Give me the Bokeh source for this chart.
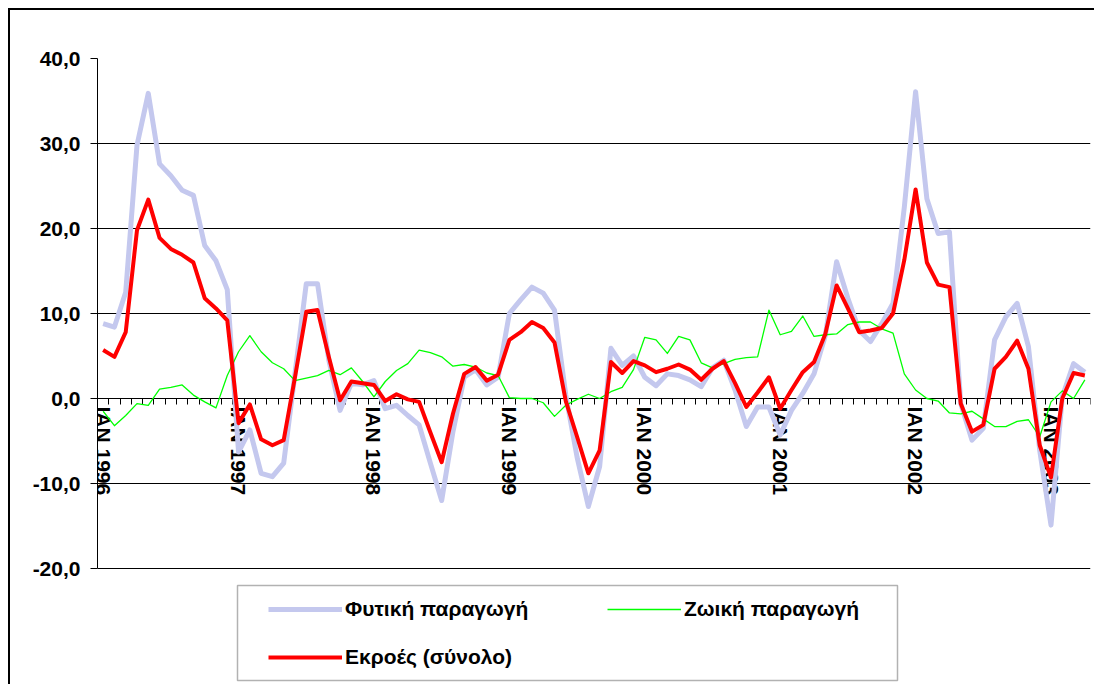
from bokeh.plotting import figure
from bokeh.models import (Range1d, LinearAxis, FixedTicker, Grid, Legend, LegendItem,
                          BoxAnnotation, ColumnDataSource)
from bokeh.embed import file_html
from bokeh.resources import INLINE

# ---------------- data (monthly, Jan 1996 - Apr 2003) ----------------
month_index = list(range(88))
fytiki = [8.8, 8.4, 12.5, 29.8, 35.9, 27.6, 26.2, 24.5, 23.9, 18.0, 16.2, 12.8,
          -6.3, -3.7, -8.8, -9.2, -7.6, 2.9, 13.5, 13.5, 4.5, -1.4, 1.8, 1.6,
          2.1, -1.2, -0.8, -2.0, -3.1, -7.6, -12.0, -3.9, 2.5, 3.4, 1.6, 2.5,
          10.0, 11.6, 13.1, 12.4, 10.4, 0.4, -6.9, -12.7, -8.0, 5.9, 3.9, 5.0,
          2.5, 1.5, 2.9, 2.7, 2.2, 1.4, 3.6, 4.5, 1.0, -3.3, -1.0, -1.0,
          -4.3, -1.4, 0.6, 2.9, 7.4, 16.1, 11.8, 8.0, 6.7, 8.8, 11.2, 22.5,
          36.1, 23.5, 19.4, 19.6, -0.6, -4.9, -3.5, 6.9, 9.6, 11.2, 6.1, -6.1,
          -14.9, 0.2, 4.1, 3.1]
zoiki = [-1.5, -3.2, -2.0, -0.6, -0.8, 1.1, 1.3, 1.6, 0.4, -0.4, -1.1, 2.7,
         5.5, 7.4, 5.5, 4.2, 3.5, 2.1, 2.4, 2.7, 3.3, 2.8, 3.6, 2.0,
         0.2, 2.0, 3.3, 4.1, 5.7, 5.4, 4.9, 3.8, 4.0, 3.7, 3.0, 2.7,
         0.1, 0.0, 0.0, -0.5, -2.1, -0.8, -0.1, 0.5, 0.0, 0.8, 1.3, 3.4,
         7.2, 6.9, 5.3, 7.3, 6.9, 4.2, 3.6, 4.1, 4.6, 4.8, 4.9, 10.4,
         7.5, 7.9, 9.7, 7.3, 7.5, 7.6, 8.7, 9.0, 9.0, 8.2, 7.7, 2.9,
         1.0, 0.0, -0.3, -1.7, -1.8, -1.5, -2.4, -3.3, -3.3, -2.7, -2.5, -4.5,
         -0.4, 0.9, 0.0, 2.2]
ekroes = [5.7, 4.9, 7.8, 19.8, 23.4, 18.9, 17.6, 16.9, 16.0, 11.8, 10.6, 9.2,
          -2.9, -0.7, -4.8, -5.5, -4.9, 2.5, 10.2, 10.4, 4.9, -0.2, 2.0, 1.8,
          1.6, -0.3, 0.5, -0.1, -0.4, -4.0, -7.5, -1.8, 2.9, 3.7, 2.1, 2.8,
          6.9, 7.8, 9.0, 8.3, 6.6, -0.3, -4.5, -8.8, -6.1, 4.3, 3.0, 4.4,
          3.9, 3.1, 3.5, 4.0, 3.4, 2.2, 3.5, 4.4, 1.8, -1.0, 0.7, 2.5,
          -1.2, 1.0, 3.1, 4.3, 7.6, 13.3, 10.6, 7.8, 8.0, 8.3, 10.0, 16.3,
          24.6, 16.0, 13.4, 13.1, -0.6, -3.9, -3.1, 3.5, 4.9, 6.8, 3.5, -5.5,
          -9.3, 0.0, 3.0, 2.7]

year_positions = [0, 12, 24, 36, 48, 60, 72, 84]
year_labels = ["IAN 1996", "IAN 1997", "IAN 1998", "IAN 1999",
               "IAN 2000", "IAN 2001", "IAN 2002", "IAN 2003"]
y_ticks = [-20, -10, 0, 10, 20, 30, 40]
y_tick_labels = ["-20,0", "-10,0", "0,0", "10,0", "20,0", "30,0", "40,0"]
series_names = ["Φυτική παραγωγή", "Ζωική παραγωγή", "Εκροές (σύνολο)"]

FONT = "Liberation Sans"

# layout (pixels)
FRAME_W, FRAME_H = 993, 628
PLOT_H = 510                      # height of the -20..40 band
PX_PER_UNIT = PLOT_H / (y_ticks[-1] - y_ticks[0])
y_bottom = y_ticks[0] - (FRAME_H - PLOT_H) / PX_PER_UNIT

src = ColumnDataSource(dict(x=month_index, fyt=fytiki, zoi=zoiki, ekr=ekroes))

p = figure(frame_width=FRAME_W, frame_height=FRAME_H,
           min_border_left=87, min_border_right=6, min_border_top=48, min_border_bottom=0,
           x_range=Range1d(-0.5, len(month_index) - 0.5),
           y_range=Range1d(y_bottom, y_ticks[-1]),
           x_axis_type=None, y_axis_type=None,
           output_backend="svg", toolbar_location=None)
p.outline_line_color = None
p.background_fill_color = "white"
p.border_fill_color = "white"
p.styles = {"box-shadow": "-2px -2px 0px 0px black",
            "margin-top": "10px", "margin-left": "10px"}

# grid
grid = Grid(dimension=1, ticker=FixedTicker(ticks=y_ticks),
            grid_line_color="#000000", grid_line_width=1)
p.add_layout(grid)

# y axis
yax = LinearAxis(ticker=FixedTicker(ticks=y_ticks), bounds=(y_ticks[0], y_ticks[-1]),
                 major_label_overrides={t: l for t, l in zip(y_ticks, y_tick_labels)})
yax.axis_line_color = "black"
yax.major_tick_out = 7
yax.major_tick_in = 0
yax.minor_tick_line_color = None
yax.major_label_standoff = 10
yax.major_label_text_font = FONT
yax.major_label_text_font_style = "bold"
yax.major_label_text_font_size = "21px"
yax.major_label_text_color = "black"
p.add_layout(yax, "left")

# x axis at zero
boundaries = [i - 0.5 for i in range(len(month_index) + 1)]
xax = LinearAxis(ticker=FixedTicker(ticks=year_positions, minor_ticks=boundaries),
                 major_label_overrides={t: l for t, l in zip(year_positions, year_labels)},
                 fixed_location=0)
xax.axis_line_color = "black"
xax.major_tick_line_color = None
xax.major_tick_out = 6
xax.major_tick_in = 0
xax.minor_tick_out = 6
xax.minor_tick_in = 0
xax.minor_tick_line_color = "black"
xax.major_label_orientation = "vertical"
xax.major_label_standoff = 2
xax.major_label_text_font = FONT
xax.major_label_text_font_style = "bold"
xax.major_label_text_font_size = "21px"
xax.major_label_text_color = "black"
xax.level = "underlay"
p.add_layout(xax, "below")

# series
r_fyt = p.line("x", "fyt", source=src, line_color="#C4C8EE", line_width=5, line_join="round")
r_zoi = p.line("x", "zoi", source=src, line_color="#00FF00", line_width=1.3, line_join="round")
r_ekr = p.line("x", "ekr", source=src, line_color="#FF0000", line_width=4, line_join="round")

legend = Legend(items=[LegendItem(label=series_names[0], renderers=[r_fyt]),
                       LegendItem(label=series_names[1], renderers=[r_zoi]),
                       LegendItem(label=series_names[2], renderers=[r_ekr])],
                orientation="horizontal", ncols=2,
                location=(171, 17), padding=0, margin=0, spacing=24,
                glyph_width=74, glyph_height=24, label_height=24, label_width=238,
                label_standoff=3, border_line_alpha=0, background_fill_alpha=0,
                label_text_font=FONT, label_text_font_style="bold",
                label_text_font_size="21px", label_text_color="black")
p.add_layout(legend)

# legend frame
legend_box = BoxAnnotation(left=227, right=887, top=575, bottom=670,
                           left_units="canvas", right_units="canvas",
                           top_units="canvas", bottom_units="canvas",
                           fill_alpha=0, line_color="black", line_width=1.5)
p.add_layout(legend_box)

open("out.html", "w").write(file_html(p, INLINE))
